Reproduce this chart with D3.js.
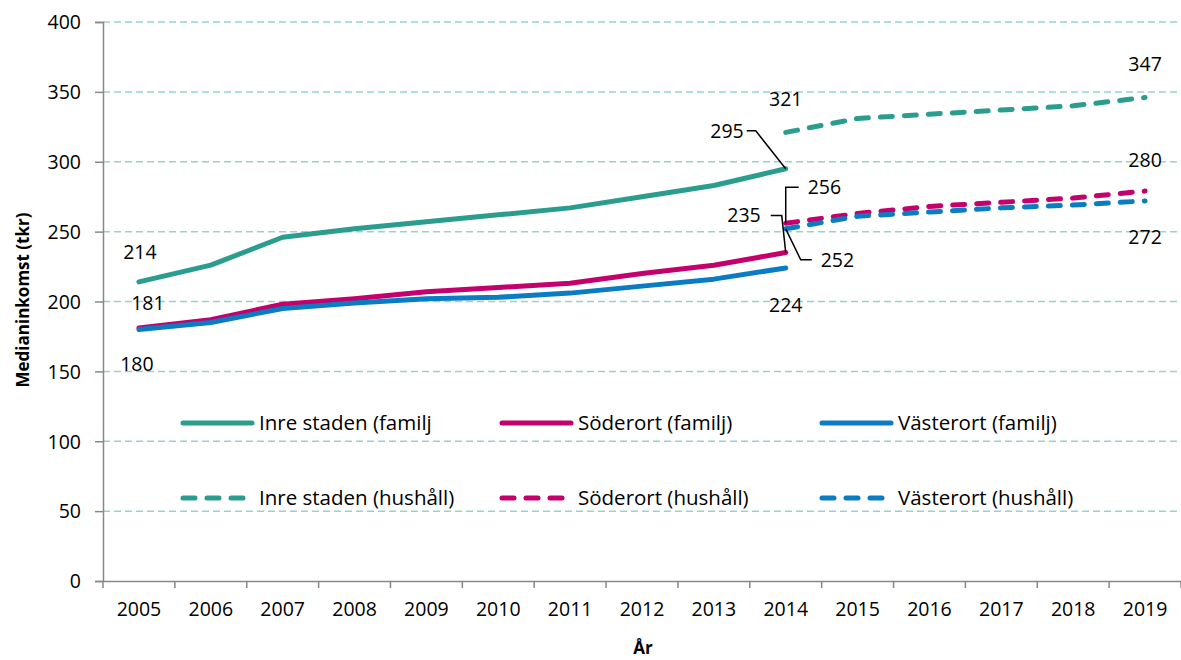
<!DOCTYPE html>
<html>
<head>
<meta charset="utf-8">
<script src="https://cdn.jsdelivr.net/npm/d3@7"></script>
<style>
  body { margin: 0; background: #fff; overflow: hidden; }
  svg { display: block; }
  svg text { font-family: "Open Sans", sans-serif; fill: #000; }
</style>
</head>
<body>
<div id="chart"></div>
<script>
// --- data ---
const years = ["2005", "2006", "2007", "2008", "2009", "2010", "2011", "2012", "2013", "2014", "2015", "2016", "2017", "2018", "2019"];
const inreFamilj   = [214, 226, 246, 252, 257, 262, 267, 275, 283, 295, null, null, null, null, null];
const soderFamilj  = [181, 187, 198, 202, 207, 210, 213, 220, 226, 235, null, null, null, null, null];
const vasterFamilj = [180, 185, 195, 199, 202, 203, 206, 211, 216, 224, null, null, null, null, null];
const inreHushall   = [null, null, null, null, null, null, null, null, null, 321, 331, 334, 337, 340, 346];
const soderHushall  = [null, null, null, null, null, null, null, null, null, 256, 263, 268, 271, 274, 279];
const vasterHushall = [null, null, null, null, null, null, null, null, null, 252, 261, 264, 267, 269, 272];
const yTicks = [0, 50, 100, 150, 200, 250, 300, 350, 400];
// value labels as printed in the chart
const endLabels2019 = { inre: 347, soder: 280, vaster: 272 };

const width = 1181, height = 660;
const margin = { top: 22, right: 0, bottom: 79, left: 103 };
const innerWidth = width - margin.left - margin.right;
const innerHeight = height - margin.top - margin.bottom;

const teal = "#2a9d8f", pink = "#c4006c", blue = "#0a7cc3";

const series = [
  { name: "Inre staden (familj", values: inreFamilj, color: teal, dash: null },
  { name: "Söderort (familj)", values: soderFamilj, color: pink, dash: null },
  { name: "Västerort (familj)", values: vasterFamilj, color: blue, dash: null },
  { name: "Inre staden (hushåll)", values: inreHushall, color: teal, dash: "12,12" },
  { name: "Söderort (hushåll)", values: soderHushall, color: pink, dash: "12,12" },
  { name: "Västerort (hushåll)", values: vasterHushall, color: blue, dash: "12,12" }
];

const svg = d3.select("#chart").append("svg")
  .attr("width", width).attr("height", height)
  .attr("viewBox", [0, 0, width, height]);

const g = svg.append("g").attr("transform", `translate(${margin.left},${margin.top})`);

const x = d3.scaleBand().domain(years).range([0, innerWidth]);
const y = d3.scaleLinear().domain([0, 400]).range([innerHeight, 0]);
const cx = yr => x(yr) + x.bandwidth() / 2;

// grid
g.append("g").selectAll("line").data(yTicks.filter(d => d > 0)).join("line")
  .attr("x1", 0).attr("x2", innerWidth)
  .attr("y1", d => y(d)).attr("y2", d => y(d))
  .attr("stroke", "#96d3d0").attr("stroke-width", 1.5).attr("stroke-dasharray", "7,4");

// axes
const tickFont = "19.5px";
const yAxis = g.append("g").call(d3.axisLeft(y).tickValues(yTicks).tickSize(8).tickPadding(14));
const xAxis = g.append("g").attr("transform", `translate(0,${innerHeight})`)
  .call(d3.axisBottom(x).tickSize(0).tickPadding(21));
[yAxis, xAxis].forEach(a => {
  a.attr("font-size", null).attr("font-family", null);
  a.select(".domain").attr("stroke", "#888").attr("stroke-width", 1.5);
  a.selectAll(".tick line").attr("stroke", "#888").attr("stroke-width", 1.5);
  a.selectAll("text").style("font-size", tickFont).attr("fill", "#000");
});
yAxis.selectAll(".tick text").attr("dy", "0.35em");
// x tick marks on band boundaries
g.append("g").selectAll("line").data(years.concat(["end"])).join("line")
  .attr("x1", (d, i) => i * x.step()).attr("x2", (d, i) => i * x.step())
  .attr("y1", innerHeight).attr("y2", innerHeight + 7)
  .attr("stroke", "#888").attr("stroke-width", 1.5);

// lines
const line = d3.line()
  .defined(d => d.v != null)
  .x(d => cx(d.yr)).y(d => y(d.v));

series.forEach(s => {
  g.append("path")
    .datum(years.map((yr, i) => ({ yr, v: s.values[i] })))
    .attr("fill", "none")
    .attr("stroke", s.color)
    .attr("stroke-width", 5)
    .attr("stroke-linecap", "round")
    .attr("stroke-linejoin", "round")
    .attr("stroke-dasharray", s.dash)
    .attr("d", line);
});

// data labels (offsets are layout, values come from the arrays)
const pt = (arr, yr) => ({ px: cx(yr), py: y(arr[years.indexOf(yr)]), v: arr[years.indexOf(yr)] });
const labels = [
  { arr: inreFamilj, yr: "2005", dx: 1, dy: -30, anchor: "middle" },
  { arr: soderFamilj, yr: "2005", dx: 9, dy: -25, anchor: "middle" },
  { arr: vasterFamilj, yr: "2005", dx: -2, dy: 35, anchor: "middle" },
  { arr: inreFamilj, yr: "2014", dx: -42, dy: -38, anchor: "end", leader: [[-39, -38], [-30, -38], [0, 0]] },
  { arr: inreHushall, yr: "2014", dx: 0, dy: -33, anchor: "middle" },
  { arr: soderHushall, yr: "2014", dx: 22, dy: -36, anchor: "start", leader: [[0, 0], [0, -36], [13, -36]] },
  { arr: soderFamilj, yr: "2014", dx: -25, dy: -37, anchor: "end", leader: [[-15, -37], [-4, -37], [0, 0]] },
  { arr: vasterHushall, yr: "2014", dx: 35, dy: 31, anchor: "start", leader: [[0, 0], [15, 31], [26, 31]] },
  { arr: vasterFamilj, yr: "2014", dx: 0, dy: 37, anchor: "middle" },
  { arr: inreHushall, yr: "2019", dx: 0, dy: -33, anchor: "middle", text: endLabels2019.inre },
  { arr: soderHushall, yr: "2019", dx: 0, dy: -31, anchor: "middle", text: endLabels2019.soder },
  { arr: vasterHushall, yr: "2019", dx: 0, dy: 36, anchor: "middle", text: endLabels2019.vaster }
];
labels.forEach(l => {
  const p = pt(l.arr, l.yr);
  if (l.leader) {
    g.append("path")
      .attr("d", d3.line()(l.leader.map(([a, b]) => [p.px + a, p.py + b])))
      .attr("fill", "none").attr("stroke", "#000").attr("stroke-width", 1.5);
  }
  g.append("text")
    .attr("x", p.px + l.dx).attr("y", p.py + l.dy)
    .attr("dy", "0.35em")
    .attr("text-anchor", l.anchor)
    .style("font-size", tickFont)
    .text(l.text != null ? l.text : p.v);
});

// legend
const legend = svg.append("g");
const legCols = [181, 500, 820];
const legRows = [423, 498];
series.forEach((s, i) => {
  const lx = legCols[i % 3], ly = legRows[Math.floor(i / 3)];
  const item = legend.append("g").attr("transform", `translate(${lx},${ly})`);
  item.append("line")
    .attr("x1", 2).attr("x2", s.dash ? 66 : 71).attr("y1", 0).attr("y2", 0)
    .attr("stroke", s.color).attr("stroke-width", 5)
    .attr("stroke-linecap", "round")
    .attr("stroke-dasharray", s.dash);
  item.append("text")
    .attr("x", 78).attr("y", 0).attr("dy", "0.35em")
    .style("font-size", "20.5px")
    .text(s.name);
});

// axis titles
svg.append("text")
  .attr("transform", "translate(23,300) rotate(-90)")
  .attr("dy", "0.35em")
  .attr("text-anchor", "middle")
  .style("font-size", "17px").style("font-weight", "bold")
  .text("Medianinkomst (tkr)");

svg.append("text")
  .attr("x", 643).attr("y", 648).attr("dy", "0.35em")
  .attr("text-anchor", "middle")
  .style("font-size", "17px").style("font-weight", "bold")
  .text("År");
</script>
</body>
</html>
